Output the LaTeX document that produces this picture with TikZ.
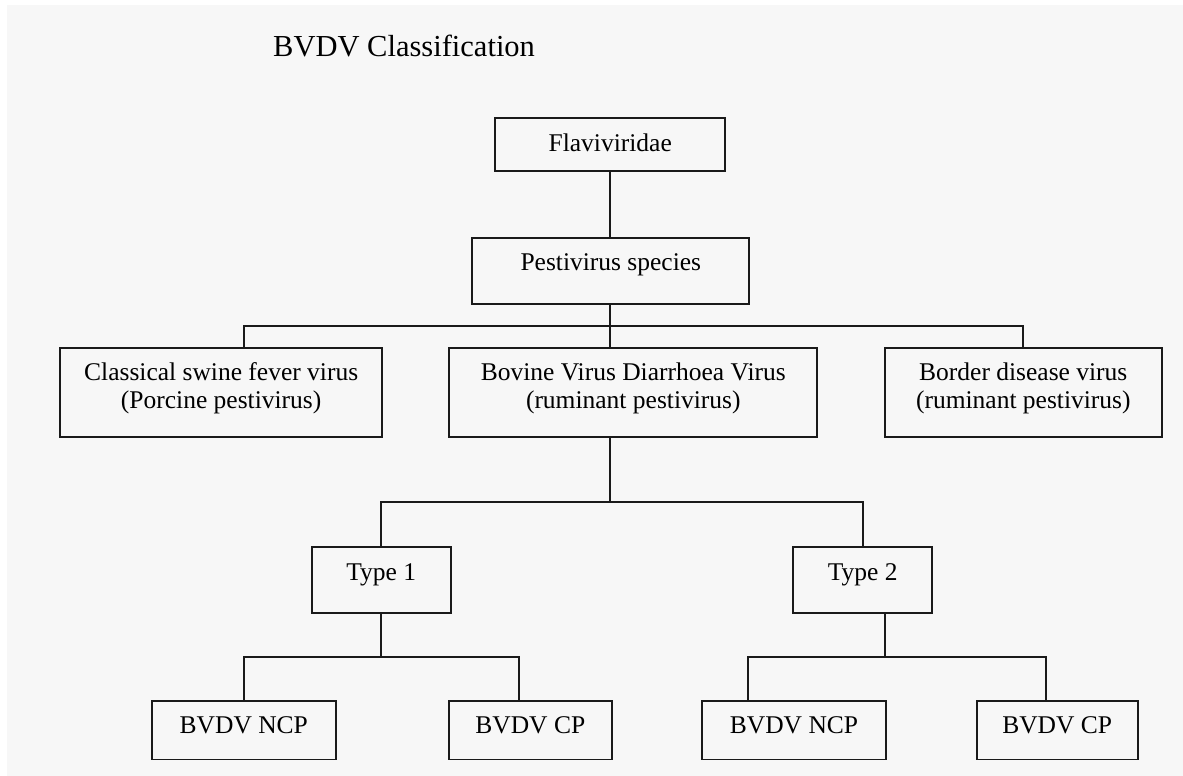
\documentclass[tikz,border=0pt]{standalone}
\usepackage{fontspec}
\setmainfont{Liberation Serif}
\usetikzlibrary{calc}
\definecolor{bggray}{HTML}{F7F7F7}
\definecolor{ink}{HTML}{1A1A1A}
\newcommand\upby[2]{\raisebox{0pt}[\height][\dimexpr\depth+#1\relax]{#2}}
\begin{document}
\begin{tikzpicture}[x=1pt,y=-1pt,
  box/.style={draw=ink, line width=1.8pt, rectangle, inner sep=0pt, text=black,
    font=\fontsize{25.5}{28.3}\selectfont},
  one/.style={text height=17.5pt, text depth=#1},
  link/.style={draw=ink, line width=1.8pt},
  titletext/.style={font=\fontsize{30.5}{36}\selectfont, text=black, inner sep=0pt}]
\useasboundingbox (0,0) rectangle (1183,776);
\fill[white] (0,0) rectangle (1183,776);
\fill[bggray] (7,5) rectangle (1183,776);

\node[titletext, anchor=base west] (title) at (273,56.7) {BVDV Classification};

\node[box, one=3.7pt, minimum width=230.3pt, minimum height=53pt] (flav) at (610.2,144.8) {Flaviviridae};
\node[box, one=18.9pt, minimum width=277pt, minimum height=66pt] (pest) at (610.8,270.7) {Pestivirus species};

\node[box, minimum width=322.3pt, minimum height=88.4pt] (csfv) at (221.2,392.5)
  {\upby{8pt}{\begin{tabular}{@{}c@{}}Classical swine fever virus\\(Porcine pestivirus)\end{tabular}}};
\node[box, minimum width=368pt, minimum height=88.4pt] (bvdv) at (633.3,392.5)
  {\upby{8pt}{\begin{tabular}{@{}c@{}}Bovine Virus Diarrhoea Virus\\(ruminant pestivirus)\end{tabular}}};
\node[box, minimum width=276.7pt, minimum height=88.4pt] (bdv) at (1023.3,392.5)
  {\upby{8pt}{\begin{tabular}{@{}c@{}}Border disease virus\\(ruminant pestivirus)\end{tabular}}};

\node[box, one=17.5pt, minimum width=139pt, minimum height=66pt] (type1) at (381.2,580) {Type 1};
\node[box, one=17.5pt, minimum width=138.7pt, minimum height=66pt] (type2) at (862.7,580) {Type 2};

\node[box, one=11.3pt, minimum width=184.3pt, minimum height=58.5pt] (ncp1) at (243.8,730.2) {BVDV NCP};
\node[box, one=11.3pt, minimum width=162.7pt, minimum height=58.5pt] (cp1) at (530.3,730.2) {BVDV CP};
\node[box, one=11.3pt, minimum width=184.6pt, minimum height=58.5pt] (ncp2) at (794,730.2) {BVDV NCP};
\node[box, one=11.3pt, minimum width=161pt, minimum height=58.5pt] (cp2) at (1057.2,730.2) {BVDV CP};

% junction points
\coordinate (j1) at (610.3,326);
\coordinate (j2) at (610.3,502.3);
\coordinate (j3) at (381.2,657);
\coordinate (j4) at (885.3,657);
\coordinate (a1) at ($(csfv.north)+(22.5,0)$);
\coordinate (a2) at ($(cp1.north)+(-11.6,0)$);
\coordinate (a3) at ($(ncp2.north)+(-46.3,0)$);
\coordinate (a4) at ($(cp2.north)+(-11.5,0)$);

\draw[link] (flav.south -| j1) -- (pest.north -| j1);
\draw[link] (pest.south -| j1) -- (bvdv.north -| j1);
\draw[link] (a1) |- (j1) -| (bdv.north);
\draw[link] (bvdv.south -| j2) -- (j2);
\draw[link] (type1.north) |- (j2) -| (type2.north);
\draw[link] (type1.south) -- (j3);
\draw[link] (ncp1.north) |- (j3) -| (a2);
\draw[link] (type2.south -| j4) -- (j4);
\draw[link] (a3) |- (j4) -| (a4);
\end{tikzpicture}
\end{document}
